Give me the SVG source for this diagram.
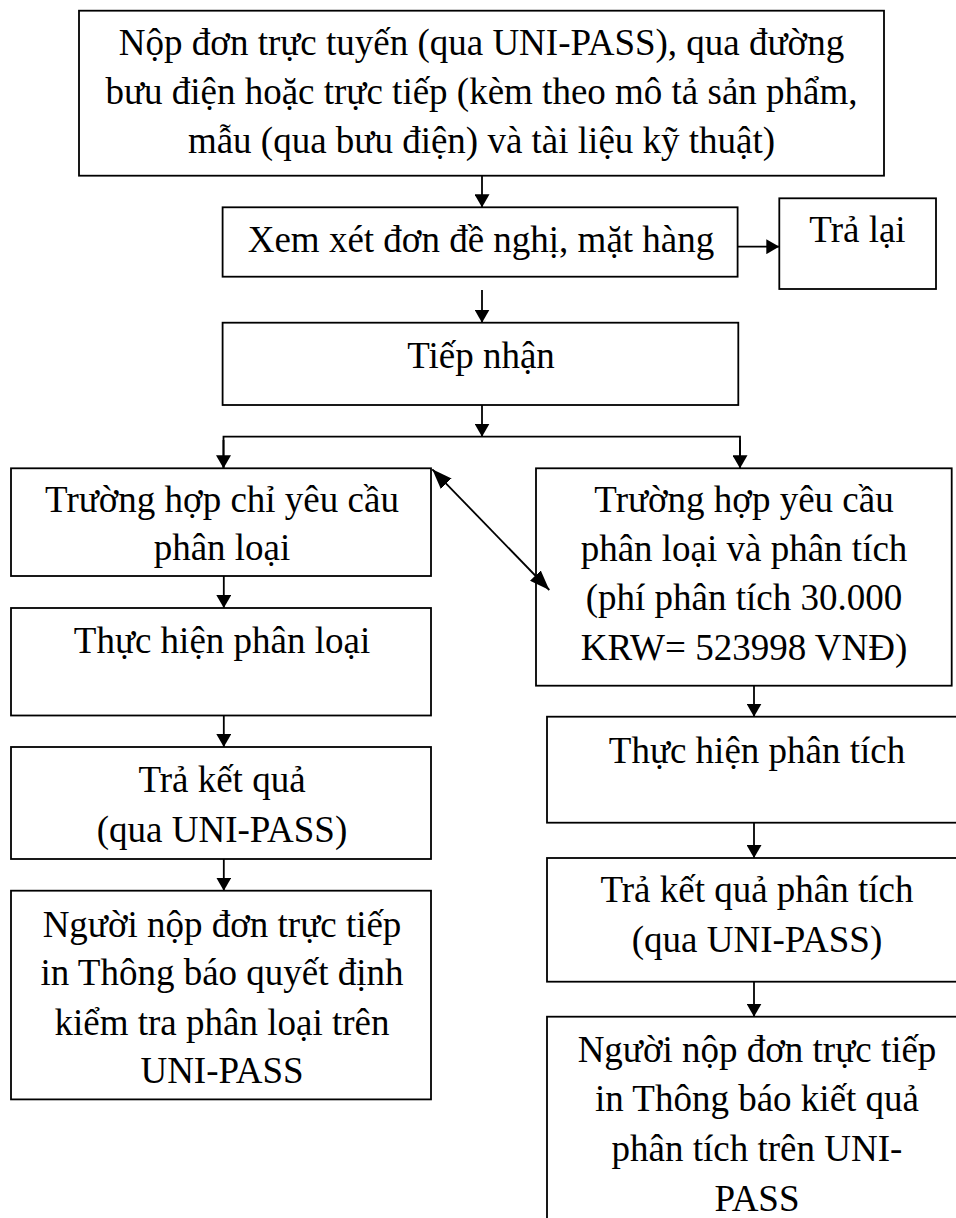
<svg xmlns="http://www.w3.org/2000/svg" width="956" height="1218" viewBox="0 0 956 1218">
<defs>
<style>
.box{fill:#fff;stroke:#000;stroke-width:1.8}
.t{font-family:"Liberation Serif","Times New Roman",serif;font-size:37px;fill:#000;text-anchor:middle}
.ln{fill:none;stroke:#000;stroke-width:1.8}
.arr{marker-end:url(#ah)}
.dbl{marker-end:url(#ah2);marker-start:url(#ah2)}
</style>
<marker id="ah" viewBox="0 0 13 15" refX="13" refY="7.5" markerWidth="13" markerHeight="15" markerUnits="userSpaceOnUse" orient="auto"><path d="M0,0 L13,7.5 L0,15 z" fill="#000"/></marker>
<marker id="ah2" viewBox="0 0 20 15" refX="20" refY="7.5" markerWidth="20" markerHeight="15" markerUnits="userSpaceOnUse" orient="auto-start-reverse"><path d="M0,0 L20,7.5 L0,15 z" fill="#000"/></marker>
</defs>
<rect width="956" height="1218" fill="#fff"/>

<g id="n1"><rect class="box" x="79" y="10.7" width="805" height="165"/>
<text class="t" x="481.5" y="55">Nộp đơn trực tuyến (qua UNI-PASS), qua đường</text>
<text class="t" x="481.5" y="104">bưu điện hoặc trực tiếp (kèm theo mô tả sản phẩm,</text>
<text class="t" x="481.5" y="153">mẫu (qua bưu điện) và tài liệu kỹ thuật)</text></g>

<g id="n2"><rect class="box" x="222.6" y="207.3" width="515" height="69.4"/>
<text class="t" x="481" y="252">Xem xét đơn đề nghị, mặt hàng</text></g>

<g id="n3"><rect class="box" x="779.3" y="198.3" width="156.7" height="90.7"/>
<text class="t" x="857.5" y="241.7">Trả lại</text></g>

<g id="n4"><rect class="box" x="222.6" y="322.7" width="515.7" height="82.3"/>
<text class="t" x="481" y="368.3">Tiếp nhận</text></g>

<g id="n5"><rect class="box" x="11" y="468.3" width="420" height="107.7"/>
<text class="t" x="222" y="511.7">Trường hợp chỉ yêu cầu</text>
<text class="t" x="222" y="560">phân loại</text></g>

<g id="n6"><rect class="box" x="536" y="468.3" width="415.7" height="217.4"/>
<text class="t" x="744" y="511.7">Trường hợp yêu cầu</text>
<text class="t" x="744" y="560.5">phân loại và phân tích</text>
<text class="t" x="744" y="610">(phí phân tích 30.000</text>
<text class="t" x="744" y="660">KRW= 523998 VNĐ)</text></g>

<g id="n7"><rect class="box" x="11" y="608" width="420" height="107.5"/>
<text class="t" x="222" y="653.3">Thực hiện phân loại</text></g>

<g id="n8"><rect class="box" x="11" y="747" width="420" height="112"/>
<text class="t" x="222" y="792">Trả kết quả</text>
<text class="t" x="222" y="842">(qua UNI-PASS)</text></g>

<g id="n9"><rect class="box" x="11" y="890.7" width="420" height="208.7"/>
<text class="t" x="222" y="936.5">Người nộp đơn trực tiếp</text>
<text class="t" x="222" y="985">in Thông báo quyết định</text>
<text class="t" x="222" y="1034.5">kiểm tra phân loại trên</text>
<text class="t" x="222" y="1083">UNI-PASS</text></g>

<g id="n10"><rect class="box" x="547" y="716.7" width="420" height="106"/>
<text class="t" x="757" y="762.6">Thực hiện phân tích</text></g>

<g id="n11"><rect class="box" x="547" y="858" width="420" height="123.7"/>
<text class="t" x="757" y="902">Trả kết quả phân tích</text>
<text class="t" x="757" y="952">(qua UNI-PASS)</text></g>

<g id="n12"><rect class="box" x="547" y="1016.7" width="420" height="220"/>
<text class="t" x="757" y="1062">Người nộp đơn trực tiếp</text>
<text class="t" x="757" y="1111">in Thông báo kiết quả</text>
<text class="t" x="757" y="1161">phân tích trên UNI-</text>
<text class="t" x="757" y="1211">PASS</text></g>

<g id="connectors">
<line class="ln arr" x1="482" y1="175.7" x2="482" y2="207.3"/>
<line class="ln arr" x1="737.7" y1="246.7" x2="779.3" y2="246.7"/>
<line class="ln arr" x1="482" y1="290" x2="482" y2="322.7"/>
<line class="ln arr" x1="482" y1="405" x2="482" y2="436.7"/>
<polyline class="ln" points="223.5,468.3 223.5,436.7 740,436.7 740,468.3"/>
<line class="ln arr" x1="223.5" y1="440" x2="223.5" y2="468.3"/>
<line class="ln arr" x1="740" y1="440" x2="740" y2="468.3"/>
<line class="ln dbl" x1="432.3" y1="469.3" x2="549.3" y2="590"/>
<line class="ln arr" x1="223.8" y1="576" x2="223.8" y2="608"/>
<line class="ln arr" x1="223.8" y1="715.5" x2="223.8" y2="747"/>
<line class="ln arr" x1="223.8" y1="859" x2="223.8" y2="890.7"/>
<line class="ln arr" x1="754" y1="685.7" x2="754" y2="716.7"/>
<line class="ln arr" x1="754" y1="822.7" x2="754" y2="858"/>
<line class="ln arr" x1="754" y1="981.7" x2="754" y2="1016.7"/>
</g>
</svg>
